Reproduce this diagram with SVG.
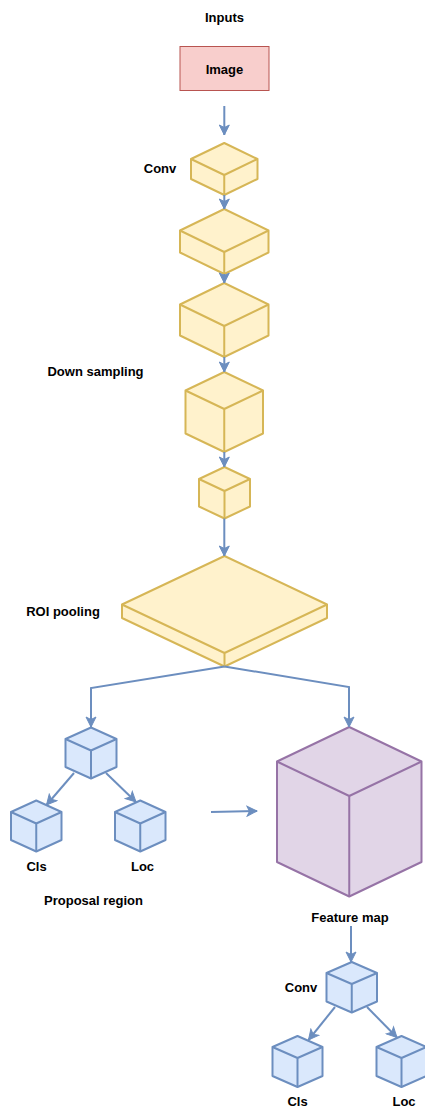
<svg xmlns="http://www.w3.org/2000/svg" width="425" height="1108" viewBox="0 0 425 1108">
<style>
.lbl{font-family:"Liberation Sans",Arial,sans-serif;font-size:13px;font-weight:bold;fill:#000;text-anchor:middle}
.y{fill:#fff2cc;stroke:#d6b656;stroke-width:2;stroke-linejoin:round}
.b{fill:#dae8fc;stroke:#6c8ebf;stroke-width:2;stroke-linejoin:round}
.p{fill:#e1d5e7;stroke:#9673a6;stroke-width:2;stroke-linejoin:round}
.e{fill:none;stroke-width:2;stroke-linejoin:round}
.y .e{stroke:#d6b656}.b .e{stroke:#6c8ebf}.p .e{stroke:#9673a6}
.c{fill:none;stroke:#6c8ebf;stroke-width:2;marker-end:url(#ah)}
</style>
<defs>
<marker id="ah" markerUnits="userSpaceOnUse" markerWidth="12" markerHeight="12" viewBox="0 0 12 12" refX="11" refY="6" orient="auto">
<path d="M1,1 L11,6 L1,11 L3.5,6 Z" fill="#6c8ebf" stroke="#6c8ebf" stroke-width="1"/>
</marker>
</defs>
<rect width="425" height="1108" fill="#fff"/>
<text class="lbl" x="224.5" y="21.5">Inputs</text>
<g id="image">
<rect x="180" y="46.5" width="89" height="44" fill="#f8cecc" stroke="#b85450" stroke-width="1"/>
<text class="lbl" x="224.5" y="73.5">Image</text>
</g>
<g id="conv1" class="y">
<path d="M224.25,143 L257.5,159 L257.5,179 L224.25,195 L191,179 L191,159 Z"/>
<path class="e" d="M191,159 L224.25,175 L257.5,159 M224.25,175 L224.25,195"/>
<text class="lbl" x="160" y="172.5" style="stroke:none">Conv</text>
</g>
<g id="cube2" class="y">
<path d="M224.25,209 L268.5,230.5 L268.5,252.5 L224.25,274 L180,252.5 L180,230.5 Z"/>
<path class="e" d="M180,230.5 L224.25,252 L268.5,230.5 M224.25,252 L224.25,274"/>
</g>
<g id="cube3" class="y">
<path d="M224.25,283 L268.5,304.5 L268.5,335.5 L224.25,357 L180,335.5 L180,304.5 Z"/>
<path class="e" d="M180,304.5 L224.25,326 L268.5,304.5 M224.25,326 L224.25,357"/>
</g>
<g id="cube4" class="y">
<path d="M224.25,372 L263,390.5 L263,433.5 L224.25,452 L185.5,433.5 L185.5,390.5 Z"/>
<path class="e" d="M185.5,390.5 L224.25,409 L263,390.5 M224.25,409 L224.25,452"/>
<text class="lbl" x="95.5" y="375.5" style="stroke:none">Down sampling</text>
</g>
<g id="cube5" class="y">
<path d="M224.5,467 L250,479 L250,506.5 L224.5,518.5 L199,506.5 L199,479 Z"/>
<path class="e" d="M199,479 L224.5,491 L250,479 M224.5,491 L224.5,518.5"/>
</g>
<g id="roi" class="y">
<path d="M224.5,556 L327,604.5 L327,618 L224.5,666.5 L122,618 L122,604.5 Z"/>
<path class="e" d="M122,604.5 L224.5,653 L327,604.5 M224.5,653 L224.5,666.5"/>
<text class="lbl" x="63" y="615.5" style="stroke:none">ROI pooling</text>
</g>
<g id="proposal" class="b">
<path d="M91,727.5 L116.5,739 L116.5,767 L91,778.5 L65.5,767 L65.5,739 Z"/>
<path class="e" d="M65.5,739 L91,750.5 L116.5,739 M91,750.5 L91,778.5"/>
</g>
<g id="cls1" class="b">
<path d="M36.25,800.5 L61.5,812 L61.5,840 L36.25,851.5 L11,840 L11,812 Z"/>
<path class="e" d="M11,812 L36.25,823.5 L61.5,812 M36.25,823.5 L36.25,851.5"/>
<text class="lbl" x="36.5" y="871" style="stroke:none">Cls</text>
</g>
<g id="loc1" class="b">
<path d="M140.25,800.5 L165.5,812 L165.5,840 L140.25,851.5 L115,840 L115,812 Z"/>
<path class="e" d="M115,812 L140.25,823.5 L165.5,812 M140.25,823.5 L140.25,851.5"/>
<text class="lbl" x="142.5" y="871" style="stroke:none">Loc</text>
</g>
<text class="lbl" x="93.5" y="904.5">Proposal region</text>
<g id="featuremap" class="p">
<path d="M349.25,727 L421.5,761.5 L421.5,862 L349.25,896.5 L277,862 L277,761.5 Z"/>
<path class="e" d="M277,761.5 L349.25,796 L421.5,761.5 M349.25,796 L349.25,896.5"/>
<text class="lbl" x="350" y="922" style="stroke:none">Feature map</text>
</g>
<g id="conv2" class="b">
<path d="M351.75,962 L377,973 L377,1001.5 L351.75,1012.5 L326.5,1001.5 L326.5,973 Z"/>
<path class="e" d="M326.5,973 L351.75,984 L377,973 M351.75,984 L351.75,1012.5"/>
<text class="lbl" x="301" y="992" style="stroke:none">Conv</text>
</g>
<g id="cls2" class="b">
<path d="M297.5,1036 L322.5,1047 L322.5,1076 L297.5,1087 L272.5,1076 L272.5,1047 Z"/>
<path class="e" d="M272.5,1047 L297.5,1058 L322.5,1047 M297.5,1058 L297.5,1087"/>
<text class="lbl" x="297.5" y="1106" style="stroke:none">Cls</text>
</g>
<g id="loc2" class="b">
<path d="M401.5,1036 L426.5,1047 L426.5,1076 L401.5,1087 L376.5,1076 L376.5,1047 Z"/>
<path class="e" d="M376.5,1047 L401.5,1058 L426.5,1047 M401.5,1058 L401.5,1087"/>
<text class="lbl" x="404" y="1106" style="stroke:none">Loc</text>
</g>
<g id="connectors">
<path class="c" d="M224.3,106 L224.3,135"/>
<path class="c" d="M224.3,195 L224.3,209"/>
<path class="c" d="M224.3,274 L224.3,283"/>
<path class="c" d="M224.3,357 L224.3,372"/>
<path class="c" d="M224.3,452 L224.3,467"/>
<path class="c" d="M224.3,518.5 L224.3,556"/>
<path class="c" d="M224.5,666.5 L91,688 L91,727"/>
<path class="c" d="M224.5,666.5 L349,687 L349,727"/>
<path class="c" d="M74,773 L46.5,805"/>
<path class="c" d="M106,773 L136,802"/>
<path class="c" d="M211,812 L257,811"/>
<path class="c" d="M351,926 L351,962"/>
<path class="c" d="M335,1007 L308.5,1040"/>
<path class="c" d="M367,1007 L397,1037.5"/>
</g>
</svg>
